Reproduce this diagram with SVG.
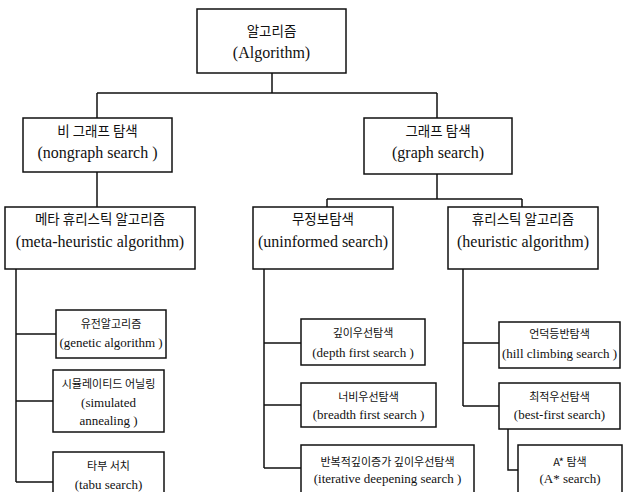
<svg xmlns="http://www.w3.org/2000/svg" width="627" height="492" viewBox="0 0 627 492">
<style>
.box{fill:#fff;stroke:#111;stroke-width:1.5}
.ln{fill:none;stroke:#111;stroke-width:1.5}
.ko{font-family:"Noto Sans CJK KR","Liberation Sans",sans-serif;fill:#111;text-anchor:middle}
.en{font-family:"Liberation Serif",serif;fill:#111;text-anchor:middle}
.k1{font-size:13.5px}.e1{font-size:16px}
.k2{font-size:11px}.e2{font-size:13px}
</style>
<rect width="627" height="492" fill="#fff"/>
<g id="connectors" class="ln">
<path d="M272 73V93M97 93H437M97 93V118M437 93V118"/>
<path d="M97 172V207"/>
<path d="M437 174V199M327 199H522M327 199V207M522 199V207"/>
<path d="M16 269V482M16 334H56M16 401H53M16 482H53"/>
<path d="M264 269V468M264 343H301M264 405H301M264 468H301"/>
<path d="M463 269V406M463 343H499M463 406H499"/>
<path d="M508 429V470H518"/>
</g>
<g id="n-algorithm"><rect class="box" x="197" y="9" width="149" height="64"/><text class="ko k1" x="271.5" y="36">알고리즘</text><text class="en e1" x="271.5" y="58">(Algorithm)</text></g>
<g id="n-nongraph"><rect class="box" x="23" y="118" width="149" height="54"/><text class="ko k1" x="97.5" y="136">비 그래프 탐색</text><text class="en e1" x="97.5" y="158">(nongraph search )</text></g>
<g id="n-graph"><rect class="box" x="364" y="118" width="148" height="56"/><text class="ko k1" x="438" y="136">그래프 탐색</text><text class="en e1" x="438" y="158">(graph search)</text></g>
<g id="n-meta"><rect class="box" x="5" y="207" width="190" height="62"/><text class="ko k1" x="100" y="224">메타 휴리스틱 알고리즘</text><text class="en e1" x="100" y="247">(meta-heuristic algorithm)</text></g>
<g id="n-uninformed"><rect class="box" x="253" y="207" width="140" height="62"/><text class="ko k1" x="323" y="224">무정보탐색</text><text class="en e1" x="323" y="247">(uninformed search)</text></g>
<g id="n-heuristic"><rect class="box" x="448" y="207" width="150" height="62"/><text class="ko k1" x="523" y="224">휴리스틱 알고리즘</text><text class="en e1" x="523" y="247">(heuristic algorithm)</text></g>
<g id="n-genetic"><rect class="box" x="56" y="310" width="110" height="48"/><text class="ko k2" x="111" y="328">유전알고리즘</text><text class="en e2" x="111" y="347">(genetic algorithm )</text></g>
<g id="n-simulated"><rect class="box" x="53" y="370" width="111" height="62"/><text class="ko k2" x="108.5" y="388">시뮬레이티드 어닐링</text><text class="en e2" x="108.5" y="407">(simulated</text><text class="en e2" x="108.5" y="425">annealing )</text></g>
<g id="n-tabu"><rect class="box" x="53" y="452" width="111" height="50"/><text class="ko k2" x="108.5" y="470">타부 서치</text><text class="en e2" x="108.5" y="489">(tabu search)</text></g>
<g id="n-depth"><rect class="box" x="301" y="319" width="124" height="46"/><text class="ko k2" x="363" y="337">깊이우선탐색</text><text class="en e2" x="363" y="357">(depth first search )</text></g>
<g id="n-breadth"><rect class="box" x="301" y="383" width="135" height="44"/><text class="ko k2" x="368.5" y="401">너비우선탐색</text><text class="en e2" x="368.5" y="419">(breadth first search )</text></g>
<g id="n-iterative"><rect class="box" x="301" y="445" width="173" height="52"/><text class="ko k2" x="387.5" y="466">반복적깊이증가 깊이우선탐색</text><text class="en e2" x="387.5" y="483">(iterative deepening search )</text></g>
<g id="n-hill"><rect class="box" x="499" y="322" width="121" height="46"/><text class="ko k2" x="559.5" y="338">언덕등반탐색</text><text class="en e2" x="559.5" y="358">(hill climbing search )</text></g>
<g id="n-best"><rect class="box" x="499" y="383" width="121" height="46"/><text class="ko k2" x="559.5" y="401">최적우선탐색</text><text class="en e2" x="559.5" y="419">(best-first search)</text></g>
<g id="n-astar"><rect class="box" x="518" y="445" width="104" height="52"/><text class="ko k2" x="570" y="466">A* 탐색</text><text class="en e2" x="570" y="483">(A* search)</text></g>
</svg>
